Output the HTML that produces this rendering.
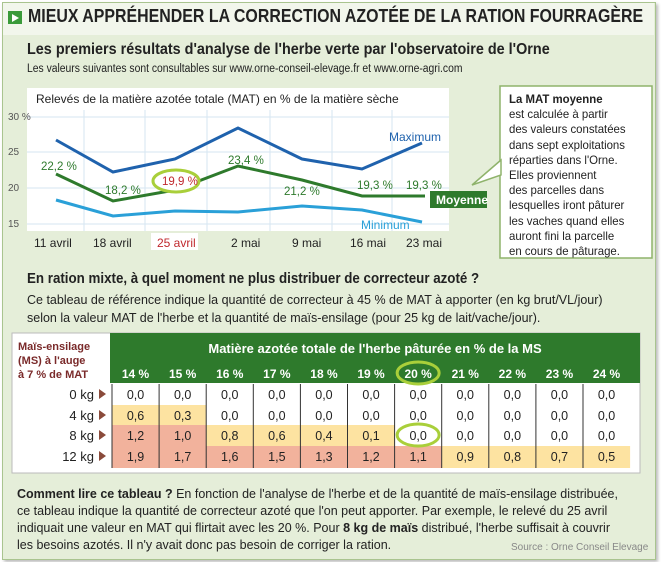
<!DOCTYPE html>
<html><head><meta charset="utf-8"><style>
body{margin:0;width:661px;height:562px;background:#fff;font-family:"Liberation Sans",sans-serif;overflow:hidden;position:relative}
.a{position:absolute;white-space:nowrap}
</style></head><body>
<div class="a" style="left:2px;top:2px;width:652px;height:556px;background:#e5eed9;border:1px solid #a9c48f;box-shadow:2px 2px 3px #bbb"></div>
<div class="a" style="left:3px;top:3px;width:651px;height:32px;background:#f2f6ec"></div>
<div class="a" style="left:8px;top:11px;width:14px;height:13px;background:#3a9a3a"></div>
<div class="a" style="left:12px;top:14px;width:0;height:0;border-left:7px solid #fff;border-top:4px solid transparent;border-bottom:4px solid transparent"></div>
<div class="a" style="left:28px;top:6px;font-size:18px;font-weight:bold;color:#222;transform:scaleX(.885);transform-origin:left">MIEUX APPRÉHENDER LA CORRECTION AZOTÉE DE LA RATION FOURRAGÈRE</div>
<div class="a" style="left:27px;top:41px;font-size:16px;font-weight:bold;color:#222;transform:scaleX(.9);transform-origin:left">Les premiers résultats d'analyse de l'herbe verte par l'observatoire de l'Orne</div>
<div class="a" style="left:27px;top:63px;font-size:11.5px;color:#222;transform:scaleX(.9);transform-origin:left">Les valeurs suivantes sont consultables sur www.orne-conseil-elevage.fr et www.orne-agri.com</div>
<svg class="a" style="left:0;top:0" width="661" height="270">
<rect x="27" y="88" width="422" height="143" fill="#fff"/>
<g stroke="#d6e6f2" stroke-width="1">
<line x1="27" y1="117" x2="449" y2="117"/><line x1="27" y1="152" x2="449" y2="152"/><line x1="27" y1="188" x2="449" y2="188"/><line x1="27" y1="224" x2="449" y2="224"/>
<line x1="84" y1="110" x2="84" y2="231"/><line x1="145" y1="110" x2="145" y2="231"/><line x1="207" y1="110" x2="207" y2="231"/><line x1="270" y1="110" x2="270" y2="231"/><line x1="332" y1="110" x2="332" y2="231"/><line x1="392" y1="110" x2="392" y2="231"/>
</g>
<rect x="151" y="233" width="47" height="17" fill="#fff"/>
<g font-size="10" fill="#555"><text x="8" y="120">30 %</text><text x="8" y="155">25</text><text x="8" y="191">20</text><text x="8" y="227">15</text></g>
<text x="36" y="103" font-size="12" fill="#222">Relevés de la matière azotée totale (MAT) en % de la matière sèche</text>
<polyline points="56,140 113,172 175,159 238,128 302,159 362,169 422,143" fill="none" stroke="#1f62ad" stroke-width="3"/>
<polyline points="56,174 113,201 175,190 238,166 302,180 362,196 425,196" fill="none" stroke="#2e7a2c" stroke-width="3"/>
<polyline points="56,200 113,216 175,211 238,212 302,206 362,210 422,222" fill="none" stroke="#2aa0d8" stroke-width="3"/>
<ellipse cx="176" cy="181" rx="23" ry="11" fill="#fff" stroke="#a9cf3a" stroke-width="3"/>
<g font-size="11.5" fill="#2e7a2c"><text x="41" y="170">22,2 %</text><text x="105" y="194">18,2 %</text><text x="228" y="164">23,4 %</text><text x="284" y="195">21,2 %</text><text x="357" y="189">19,3 %</text><text x="406" y="189">19,3 %</text></g>
<text x="162" y="185" font-size="11.5" fill="#c0282d">19,9 %</text>
<text x="389" y="141" font-size="12" fill="#1f62ad">Maximum</text>
<text x="361" y="229" font-size="12" fill="#2aa0d8">Minimum</text>
<rect x="430" y="191" width="57" height="17" fill="#2e7a2c"/>
<text x="436" y="204" font-size="12" font-weight="bold" fill="#fff">Moyenne</text>
<g font-size="12" fill="#222"><text x="34" y="247">11 avril</text><text x="93" y="247">18 avril</text><text x="231" y="247">2 mai</text><text x="292" y="247">9 mai</text><text x="350" y="247">16 mai</text><text x="406" y="247">23 mai</text></g>
<text x="157" y="247" font-size="12" fill="#c0282d">25 avril</text>
<rect x="500" y="86" width="152" height="172" fill="#fff" stroke="#8fb36b" stroke-width="1.5"/>
<polygon points="501,160 472,185 501,175" fill="#fff" stroke="#8fb36b" stroke-width="1.5"/>
<rect x="502" y="161" width="4" height="13" fill="#fff"/>
</svg>
<div class="a" style="left:509px;top:92px;font-size:12px;line-height:15.2px;color:#222;transform:scaleX(.95);transform-origin:left"><b>La MAT moyenne</b><br>est calculée à partir<br>des valeurs constatées<br>dans sept exploitations<br>réparties dans l'Orne.<br>Elles proviennent<br>des parcelles dans<br>lesquelles iront pâturer<br>les vaches quand elles<br>auront fini la parcelle<br>en cours de pâturage.</div>
<div class="a" style="left:27px;top:271px;font-size:14.5px;font-weight:bold;color:#222;transform:scaleX(.92);transform-origin:left">En ration mixte, à quel moment ne plus distribuer de correcteur azoté ?</div>
<div class="a" style="left:27px;top:291px;font-size:12.5px;line-height:18px;color:#222">Ce tableau de référence indique la quantité de correcteur à 45 % de MAT à apporter (en kg brut/VL/jour)<br>selon la valeur MAT de l'herbe et la quantité de maïs-ensilage (pour 25 kg de lait/vache/jour).</div>
<svg class="a" style="left:0;top:325px" width="661" height="160">
<rect x="12" y="8" width="628" height="140" fill="#fff" stroke="#bbb"/>
<rect x="110" y="8" width="530" height="50" fill="#2e7a2c"/>
<text x="375" y="28" text-anchor="middle" font-size="13" font-weight="bold" fill="#fff">Matière azotée totale de l'herbe pâturée en % de la MS</text>
<g font-size="11" font-weight="bold" fill="#7a2a2a"><text x="18" y="25">Maïs-ensilage</text><text x="18" y="39">(MS) à l'auge</text><text x="18" y="53">à 7 % de MAT</text></g>
<g id="cells"></g>
</svg>
<script>
var cols=["14 %","15 %","16 %","17 %","18 %","19 %","20 %","21 %","22 %","23 %","24 %"];
var rows=[["0 kg",["0,0","0,0","0,0","0,0","0,0","0,0","0,0","0,0","0,0","0,0","0,0"],"wwwwwwwwwww"],
["4 kg",["0,6","0,3","0,0","0,0","0,0","0,0","0,0","0,0","0,0","0,0","0,0"],"yywwwwwwwww"],
["8 kg",["1,2","1,0","0,8","0,6","0,4","0,1","0,0","0,0","0,0","0,0","0,0"],"ssyyyywwwww"],
["12 kg",["1,9","1,7","1,6","1,5","1,3","1,2","1,1","0,9","0,8","0,7","0,5"],"sssssssyyyy"]];
var x0=112,w=47.1,s="",col={w:"#fff",y:"#fde3a1",s:"#f2b29c"};
for(var i=0;i<11;i++){s+='<text x="'+(x0+w*i+w/2)+'" y="53" text-anchor="middle" font-size="12" font-weight="bold" fill="#fff">'+cols[i]+'</text>';}
var ys=[59,80,100,121],hs=[21,20,21,22];
for(var r=0;r<4;r++){var y=ys[r];
s+='<text x="94" y="'+(y+15)+'" text-anchor="end" font-size="13" fill="#222">'+rows[r][0]+'</text><polygon points="99,'+(y+5)+' 106,'+(y+10)+' 99,'+(y+15)+'" fill="#8a4a3a"/>';
for(var i=0;i<11;i++){s+='<rect x="'+(x0+w*i)+'" y="'+y+'" width="'+w+'" height="'+hs[r]+'" fill="'+col[rows[r][2][i]]+'"/><text x="'+(x0+w*i+w/2)+'" y="'+(y+15)+'" text-anchor="middle" font-size="12.5" fill="#222">'+rows[r][1][i]+'</text>';}}
for(var i=1;i<11;i++){s+='<line x1="'+(x0+w*i)+'" y1="59" x2="'+(x0+w*i)+'" y2="143" stroke="#333" stroke-width="1"/>';}
s+='<line x1="'+x0+'" y1="59" x2="'+x0+'" y2="143" stroke="#333"/>';
s+='<ellipse cx="'+(x0+w*6.5)+'" cy="48" rx="21" ry="11" fill="none" stroke="#a9cf3a" stroke-width="3"/>';
s+='<ellipse cx="'+(x0+w*6.5)+'" cy="110" rx="21" ry="11" fill="#fff" stroke="#a9cf3a" stroke-width="3"/><text x="'+(x0+w*6.5)+'" y="115" text-anchor="middle" font-size="12.5" fill="#222">0,0</text>';
document.getElementById("cells").innerHTML=s;
</script>
<div class="a" style="left:17px;top:486px;font-size:12.5px;line-height:17px;color:#222"><b>Comment lire ce tableau ?</b> En fonction de l'analyse de l'herbe et de la quantité de maïs-ensilage distribuée,<br>ce tableau indique la quantité de correcteur azoté que l'on peut apporter. Par exemple, le relevé du 25 avril<br>indiquait une valeur en MAT qui flirtait avec les 20 %. Pour <b>8 kg de maïs</b> distribué, l'herbe suffisait à couvrir<br>les besoins azotés. Il n'y avait donc pas besoin de corriger la ration.</div>
<div class="a" style="left:511px;top:542px;font-size:10px;color:#888">Source : Orne Conseil Elevage</div>
</body></html>
